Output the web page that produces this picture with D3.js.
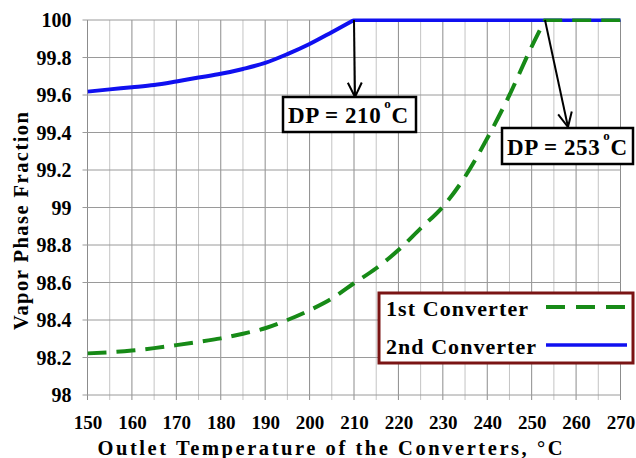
<!DOCTYPE html>
<html>
<head>
<meta charset="utf-8">
<script src="https://cdn.jsdelivr.net/npm/d3@7/dist/d3.min.js"></script>
<style>
  body { margin: 0; background: #fff; }
  text { font-family: "Liberation Serif", "Times New Roman", serif; font-weight: bold; fill: #000; }
</style>
</head>
<body>
<svg id="chart" width="636" height="458"></svg>
<script>
// 1st converter (green dashed)
const temps1 = [150, 155, 160, 165, 170, 175, 180, 185, 190, 195, 200, 205, 210, 215, 220, 225, 230, 235, 240, 245, 250, 253, 255, 260, 265, 270];
const frac1 = [98.222, 98.228, 98.237, 98.25, 98.266, 98.283, 98.302, 98.327, 98.356, 98.4, 98.452, 98.514, 98.596, 98.676, 98.773, 98.889, 99.004, 99.164, 99.369, 99.6, 99.858, 100, 100, 100, 100, 100];

// 2nd converter (blue solid)
const temps2 = [150, 155, 160, 165, 170, 175, 180, 185, 190, 195, 200, 205, 210, 220, 230, 240, 250, 260, 270];
const frac2 = [99.618, 99.63, 99.641, 99.653, 99.672, 99.693, 99.713, 99.739, 99.771, 99.818, 99.872, 99.935, 100, 100, 100, 100, 100, 100, 100];

const seriesNames = ['1st Converter', '2nd Converter'];
const seriesColors = ['#178a17', '#1010f0'];
const dewPoints = [253, 210];
const dpLabels = ['DP = 210', 'DP = 253'];
const xTicks = d3.range(150, 271, 10);
const xMinor = d3.range(150, 271, 5);
const yTicks = [98, 98.2, 98.4, 98.6, 98.8, 99, 99.2, 99.4, 99.6, 99.8, 100];

const svg = d3.select('#chart');
const x = d3.scaleLinear().domain([150, 270]).range([87.5, 620.5]);
const y = d3.scaleLinear().domain([98, 100]).range([395, 20]);

// grid
const grid = svg.append('g');
grid.selectAll('.vminor')
  .data(xMinor.filter(d => d % 10 !== 0))
  .enter().append('line')
  .attr('x1', d => x(d)).attr('x2', d => x(d))
  .attr('y1', y(100)).attr('y2', y(98) + 5)
  .attr('stroke', '#c4c4c4').attr('stroke-width', 1);
grid.selectAll('.vmajor')
  .data(xTicks)
  .enter().append('line')
  .attr('x1', d => x(d)).attr('x2', d => x(d))
  .attr('y1', y(100)).attr('y2', y(98) + 5)
  .attr('stroke', '#8c8c8c').attr('stroke-width', 1);
grid.selectAll('.hline')
  .data(yTicks)
  .enter().append('line')
  .attr('x1', x(150) - 5).attr('x2', x(270))
  .attr('y1', d => y(d)).attr('y2', d => y(d))
  .attr('stroke', '#9a9a9a').attr('stroke-width', 1);

// axes labels
const yAxis = svg.append('g')
  .attr('transform', `translate(${x(150)},0)`)
  .call(d3.axisLeft(y).tickValues(yTicks).tickSize(0).tickPadding(16)
    .tickFormat(d => d3.format('')(+d.toFixed(1))));
yAxis.select('.domain').remove();
yAxis.selectAll('text').attr('font-size', 20).attr('dy', '0.34em')
  .style('font-family', '"Liberation Serif", serif').style('font-weight', 'bold');

const xAxis = svg.append('g')
  .attr('transform', `translate(0,${y(98)})`)
  .call(d3.axisBottom(x).tickValues(xTicks).tickSize(0).tickPadding(21).tickFormat(d3.format('d')));
xAxis.select('.domain').remove();
xAxis.selectAll('text').attr('font-size', 19)
  .style('font-family', '"Liberation Serif", serif').style('font-weight', 'bold');

// titles
svg.append('text')
  .attr('x', 330).attr('y', 455)
  .attr('text-anchor', 'middle')
  .attr('font-size', 20.5)
  .attr('textLength', 465).attr('lengthAdjust', 'spacing')
  .text('Outlet Temperature of the Converters, °C');

svg.append('text')
  .attr('transform', 'translate(27.5,221) rotate(-90)')
  .attr('text-anchor', 'middle')
  .attr('font-size', 20.5)
  .attr('textLength', 218).attr('lengthAdjust', 'spacing')
  .text('Vapor Phase Fraction');

// lines: smooth rise up to the dew point, then straight at 100
svg.append('clipPath').attr('id', 'plot-clip')
  .append('rect').attr('x', x(150)).attr('y', y(100) - 1.5)
  .attr('width', x(270) - x(150) + 2).attr('height', y(98) - y(100) + 1.5);

const smooth = d3.line().x(d => x(d[0])).y(d => y(d[1])).curve(d3.curveMonotoneX);
const straight = d3.line().x(d => x(d[0])).y(d => y(d[1]));
function seriesPath(temps, vals, dp) {
  const pts = d3.zip(temps, vals);
  const rise = pts.filter(p => p[0] <= dp);
  const flat = pts.filter(p => p[0] >= dp);
  return smooth(rise) + straight(flat).replace(/^M/, 'L');
}

const plot = svg.append('g').attr('clip-path', 'url(#plot-clip)');
plot.append('path')
  .attr('d', seriesPath(temps2, frac2, dewPoints[1]))
  .attr('fill', 'none')
  .attr('stroke', seriesColors[1]).attr('stroke-width', 4);
plot.append('path')
  .attr('d', seriesPath(temps1, frac1, dewPoints[0]))
  .attr('fill', 'none')
  .attr('stroke', seriesColors[0]).attr('stroke-width', 4)
  .attr('stroke-dasharray', '19,10');

// dew point annotations
const annot = [
  {dp: dewPoints[1], tip: [355, 97], box: {x: 283, y: 97, w: 133, h: 35}},
  {dp: dewPoints[0], tip: [568, 127], box: {x: 502, y: 128, w: 131, h: 36}}
];

annot.forEach((a, i) => {
  const x0 = x(a.dp), y0 = y(100);
  const [x1, y1] = a.tip;
  const ang = Math.atan2(y1 - y0, x1 - x0);
  const len = 16, spread = 0.45;
  svg.append('line')
    .attr('x1', x0).attr('y1', y0).attr('x2', x1).attr('y2', y1)
    .attr('stroke', '#000').attr('stroke-width', 2);
  svg.append('path')
    .attr('d', `M${x1 - len * Math.cos(ang - spread)},${y1 - len * Math.sin(ang - spread)}` +
      `L${x1},${y1}L${x1 - len * Math.cos(ang + spread)},${y1 - len * Math.sin(ang + spread)}`)
    .attr('fill', 'none').attr('stroke', '#000').attr('stroke-width', 2);

  const b = a.box;
  svg.append('rect')
    .attr('x', b.x).attr('y', b.y).attr('width', b.w).attr('height', b.h)
    .attr('fill', '#fff').attr('stroke', '#000').attr('stroke-width', 2.5);
  const t = svg.append('text')
    .attr('x', b.x + 5).attr('y', b.y + b.h - 9.5)
    .attr('font-size', 23).attr('letter-spacing', 0.6);
  t.append('tspan').text(dpLabels[i]);
  t.append('tspan').attr('dx', 3).attr('dy', -15).attr('font-size', 13).text('o');
  t.append('tspan').attr('dy', 15).text('C');
});

// legend
const legend = svg.append('g');
legend.append('rect')
  .attr('x', 379).attr('y', 293).attr('width', 254).attr('height', 70)
  .attr('fill', '#fff').attr('stroke', '#7a1414').attr('stroke-width', 3);
const legY = [307, 345];
const legLen = [142, 150];
seriesNames.forEach((name, i) => {
  legend.append('text')
    .attr('x', 386).attr('y', legY[i] + 9)
    .attr('font-size', 22)
    .attr('textLength', legLen[i]).attr('lengthAdjust', 'spacing')
    .text(name);
  legend.append('line')
    .attr('x1', 546).attr('x2', 627)
    .attr('y1', legY[i]).attr('y2', legY[i])
    .attr('stroke', seriesColors[i]).attr('stroke-width', i === 0 ? 4 : 3.5)
    .attr('stroke-dasharray', i === 0 ? '19,11' : null);
});
</script>
</body>
</html>
